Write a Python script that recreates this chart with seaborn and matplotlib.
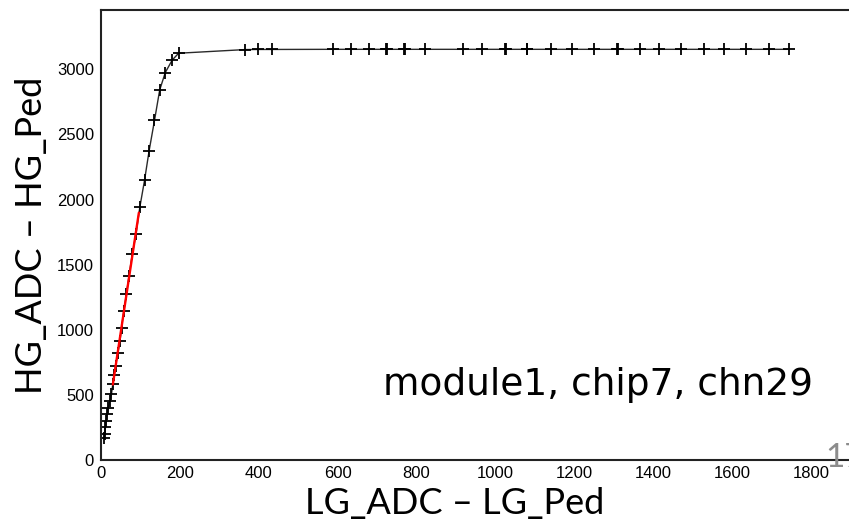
"""Gain curve: HG vs LG for module1, chip7, chn29."""

import numpy as np
import pandas as pd
import matplotlib
matplotlib.use("Agg")
import matplotlib.pyplot as plt
import seaborn as sns
from matplotlib.ticker import MultipleLocator

# measured points (LG_ADC - LG_Ped, HG_ADC - HG_Ped)
lg = [7.6, 9.6, 11.4, 13.2, 15.7, 18.3, 22.3, 26.6, 29.9, 33, 36.8, 42.6,
      48.2, 52, 57.8, 64.6, 71, 79.3, 88.7, 98.4, 110.3, 121.7, 135.6,
      148.8, 163, 180.6, 196.8,
      365, 399, 433, 587, 633, 679, 722, 724, 768, 770, 821, 918, 966,
      1025, 1027, 1079, 1081, 1140, 1195, 1249, 1308, 1310, 1367, 1415,
      1470, 1529, 1580, 1634, 1693, 1743]
hg = [169, 200, 253, 300, 353, 399, 453, 507, 584, 653, 722, 822,
      914, 1014, 1144, 1275, 1413, 1582, 1736, 1941, 2147, 2370, 2608,
      2842, 2976, 3072, 3124,
      3152, 3153, 3153, 3154, 3154, 3154, 3154, 3154, 3154, 3154, 3154,
      3154, 3154, 3154, 3154, 3154, 3154, 3154, 3154, 3154, 3154, 3154,
      3154, 3154, 3154, 3154, 3154, 3154, 3154, 3154]

# range of the linear fit (red)
fit_range = (30, 96)

df = pd.DataFrame({"lg": lg, "hg": hg})
sel = df[(df.lg >= fit_range[0]) & (df.lg <= fit_range[1])]
slope, offset = np.polyfit(sel.lg, sel.hg, 1)
fit_df = pd.DataFrame({"lg": list(fit_range)})
fit_df["hg"] = offset + slope * fit_df.lg

sns.set_theme(style="white")
plt.rcParams["font.family"] = ["Liberation Sans", "DejaVu Sans"]
plt.rcParams["text.color"] = "black"

fig = plt.figure(figsize=(8.49, 5.22), dpi=100)
ax = fig.add_axes([101 / 849, 62 / 522, 2000 * 0.3945 / 849, 450 / 522])

sns.lineplot(data=df, x="lg", y="hg", ax=ax, estimator=None, sort=False,
             color="#2a2a2a", lw=1.0, marker="+", markersize=8,
             markeredgewidth=1.3, markeredgecolor="black", zorder=2)
sns.lineplot(data=fit_df, x="lg", y="hg", ax=ax, estimator=None,
             color="#ff0000", lw=1.7, zorder=3)

ax.set_xlim(0, 2000)
ax.set_ylim(0, 3456)
ax.xaxis.set_major_locator(MultipleLocator(200))
ax.xaxis.set_minor_locator(MultipleLocator(50))
ax.yaxis.set_major_locator(MultipleLocator(500))
ax.yaxis.set_minor_locator(MultipleLocator(100))
ax.tick_params(axis="both", which="both", direction="in", colors="black",
               labelsize=12, width=1.1)
ax.tick_params(axis="x", which="major", length=10, pad=4)
ax.tick_params(axis="x", which="minor", length=5)
ax.tick_params(axis="y", which="major", length=16, pad=5)
ax.tick_params(axis="y", which="minor", length=8.5)
for s in ax.spines.values():
    s.set_linewidth(1.5)
    s.set_color("#222222")
ax.set_xlabel("")
ax.set_ylabel("")

big = ["Lato", "DejaVu Sans"]
fig.text(455 / 849, 1 - 514 / 522, "LG_ADC \u2013 LG_Ped", family=big,
         fontsize=26, ha="center", va="baseline", color="black")
fig.text(42 / 849, 1 - 235 / 522, "HG_ADC \u2013 HG_Ped", family=big,
         fontsize=26, rotation=90, ha="center", va="baseline",
         rotation_mode="anchor", color="black")
fig.text(383 / 849, 1 - 395 / 522, "module1, chip7, chn29",
         family=["DejaVu Sans"], fontsize=27, ha="left", va="baseline",
         color="black")
fig.text(825 / 849, 1 - 467 / 522, "17", family=big, fontsize=24,
         color="#8c8c8c", ha="left", va="baseline")

fig.savefig("out.png", dpi=100)
